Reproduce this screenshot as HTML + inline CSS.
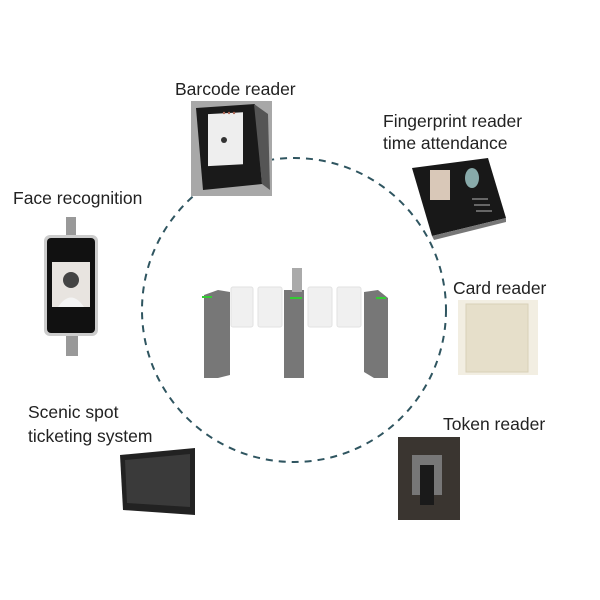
<!DOCTYPE html>
<html><head><style>
body{margin:0;background:#fff}
svg{display:block}
text{font-family:"Liberation Sans",sans-serif;font-size:17.5px;fill:#222}
</style></head><body>
<svg width="600" height="600" viewBox="0 0 600 600">
<circle cx="294" cy="310" r="152" fill="none" stroke="#2f5560" stroke-width="2" stroke-dasharray="7,6"/>
<text x="175" y="95">Barcode reader</text>
<text x="383" y="127">Fingerprint reader</text>
<text x="383" y="149">time attendance</text>
<text x="13" y="204">Face recognition</text>
<text x="453" y="294">Card reader</text>
<text x="28" y="418">Scenic spot</text>
<text x="28" y="442">ticketing system</text>
<text x="443" y="430">Token reader</text>
<!-- barcode -->
<rect x="191" y="101" width="81" height="95" fill="#a8a8a8"/>
<path d="M196 108 L255 104 L262 184 L203 190Z" fill="#1a1a1a"/>
<path d="M254 104 L268 114 L270 190 L262 184Z" fill="#555"/>
<rect x="208" y="125" width="35" height="52" fill="#eee" transform="skewY(-3)"/>
<circle cx="224" cy="140" r="3" fill="#333"/>
<circle cx="224" cy="113" r="1.2" fill="#a65"/><circle cx="229" cy="113" r="1.2" fill="#a65"/><circle cx="234" cy="113" r="1.2" fill="#a65"/>
<!-- fingerprint -->
<path d="M412 168 L488 158 L506 218 L432 236Z" fill="#181818"/>
<path d="M432 236 L506 218 L506 222 L434 240Z" fill="#777"/>
<rect x="430" y="170" width="20" height="30" fill="#d9c8b8"/>
<ellipse cx="472" cy="178" rx="7" ry="10" fill="#8aa"/>
<g fill="#666"><rect x="472" y="198" width="16" height="2"/><rect x="474" y="204" width="16" height="2"/><rect x="476" y="210" width="16" height="2"/></g>
<!-- face -->
<rect x="66" y="217" width="10" height="18" fill="#999"/>
<rect x="44" y="235" width="54" height="101" rx="6" fill="#ccc"/>
<rect x="47" y="238" width="48" height="95" rx="4" fill="#111"/>
<rect x="52" y="262" width="38" height="45" fill="#e8e4e0"/>
<circle cx="71" cy="280" r="8" fill="#444"/>
<path d="M58 307 Q71 288 84 307Z" fill="#f4f4f4"/>
<rect x="66" y="336" width="12" height="20" fill="#999"/>
<!-- gates -->
<g fill="#777">
<path d="M204 295 L218 290 L230 292 L230 375 L218 378 L204 378Z"/>
<rect x="284" y="290" width="20" height="88"/>
<path d="M364 292 L378 290 L388 298 L388 378 L374 378 L364 372Z"/>
</g>
<rect x="292" y="268" width="10" height="24" fill="#aaa"/>
<g fill="#f0f0f0" stroke="#e2e2e2">
<rect x="231" y="287" width="22" height="40" rx="2"/>
<rect x="258" y="287" width="24" height="40" rx="2"/>
<rect x="308" y="287" width="24" height="40" rx="2"/>
<rect x="337" y="287" width="24" height="40" rx="2"/>
</g>
<g fill="#3c3"><rect x="202" y="296" width="10" height="2"/><rect x="290" y="297" width="12" height="2"/><rect x="376" y="297" width="10" height="2"/></g>
<!-- card reader -->
<rect x="458" y="300" width="80" height="75" fill="#f2eee2"/>
<rect x="466" y="304" width="62" height="68" fill="#e6dfca" stroke="#d8d0b8"/>
<!-- monitor -->
<path d="M120 455 L195 448 L195 515 L123 510Z" fill="#222"/>
<path d="M125 460 L190 454 L190 507 L127 503Z" fill="#3a3a3a"/>
<!-- token -->
<rect x="398" y="437" width="62" height="83" fill="#3a3530"/>
<rect x="412" y="455" width="30" height="40" fill="#777"/>
<rect x="420" y="465" width="14" height="40" fill="#1a1a1a"/>
</svg>
</body></html>
